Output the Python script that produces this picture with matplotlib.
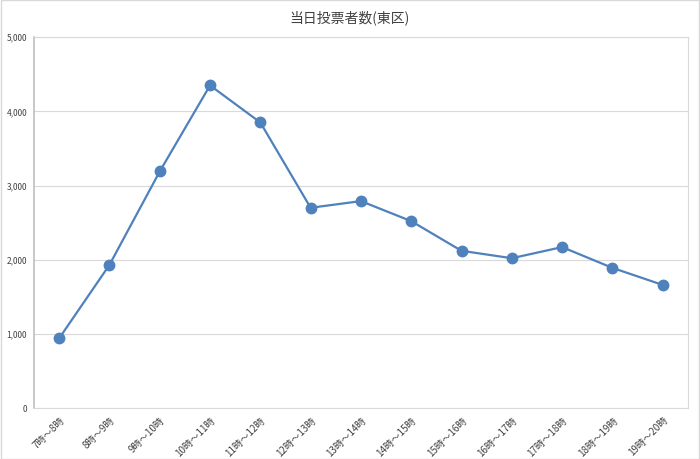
import matplotlib.pyplot as plt
from matplotlib.ticker import FuncFormatter

plt.rcParams['font.family'] = ['Noto Sans CJK JP', 'DejaVu Sans']

labels = ['7時～8時', '8時～9時', '9時～10時', '10時～11時', '11時～12時', '12時～13時',
          '13時～14時', '14時～15時', '15時～16時', '16時～17時', '17時～18時',
          '18時～19時', '19時～20時']
voters = [940, 1930, 3190, 4350, 3850, 2700, 2790, 2520, 2120, 2020, 2170, 1890, 1660]

fig = plt.figure(figsize=(7, 4.59), dpi=100)
ax = fig.add_axes([0.0486, 0.111, 0.934, 0.808])

x = list(range(len(labels)))
ax.plot(x, voters, color='#4F81BD', linewidth=1.6, marker='o', markersize=7.5, zorder=3)

ax.set_xlim(-0.5, len(labels) - 0.5)
ax.set_ylim(0, 5000)
ax.set_yticks(range(0, 5001, 1000))
ax.yaxis.set_major_formatter(FuncFormatter(lambda v, p: f'{int(v):,}'))
ax.set_xticks(x)
ax.set_xticklabels(labels, rotation=45, ha='right', rotation_mode='anchor', fontsize=7)
ax.tick_params(axis='y', labelsize=6, length=0, pad=5, colors='#404040')
ax.tick_params(axis='x', length=0, pad=5, colors='#404040')
ax.grid(axis='y', color='#D9D9D9', linewidth=0.8)
ax.set_axisbelow(True)
for s in ax.spines.values():
    s.set_color('#D9D9D9')
ax.spines['left'].set_color('#BFBFBF')
ax.spines['left'].set_linewidth(1.2)

fig.text(0.5, 0.962, '当日投票者数(東区)', ha='center', va='center', fontsize=10, color='#404040')

fig.patches.append(plt.Rectangle((0.001, 0.001), 0.998, 0.998, transform=fig.transFigure,
                                 fill=False, edgecolor='#D9D9D9', linewidth=1))

fig.savefig('out.png', dpi=100)
